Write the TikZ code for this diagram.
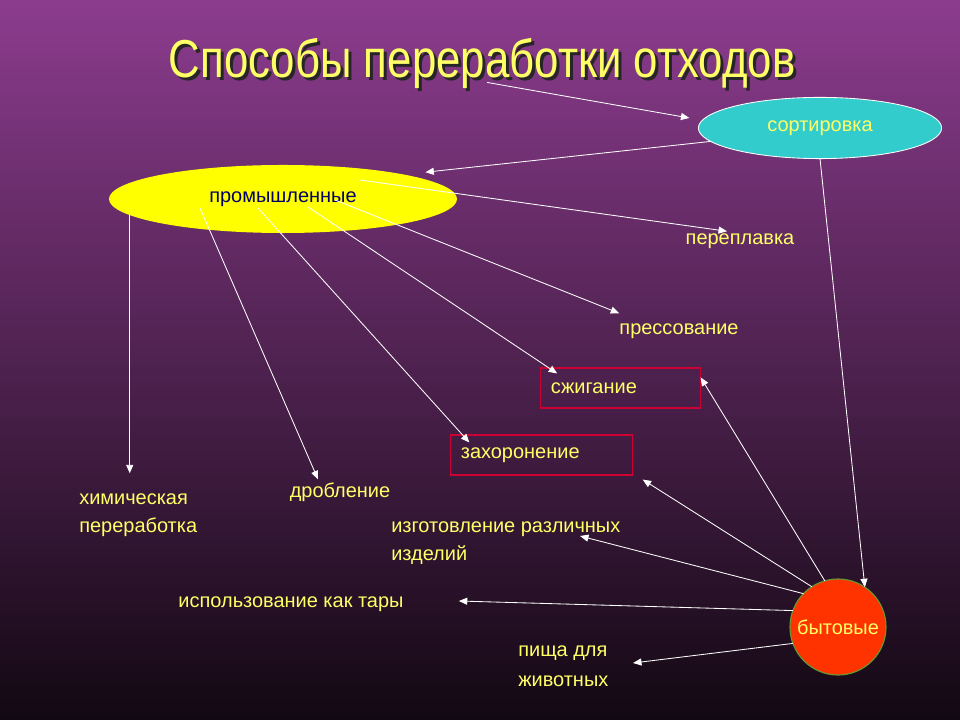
\documentclass[tikz,border=0pt]{standalone}
\usepackage{fontspec}
\setmainfont{Liberation Sans}
\newfontfamily\titlefont[FakeStretch=0.82]{Liberation Sans}
\usetikzlibrary{shapes.geometric, arrows.meta, positioning}

\definecolor{bgtop}{RGB}{140,60,142}
\definecolor{bgbot}{RGB}{18,8,18}
\definecolor{labyellow}{RGB}{255,255,102}
\definecolor{sortcyan}{RGB}{51,204,204}
\definecolor{promyellow}{RGB}{255,255,0}
\definecolor{promtext}{RGB}{0,0,102}
\definecolor{bytred}{RGB}{255,51,0}
\definecolor{bytgreen}{RGB}{102,153,51}
\definecolor{boxred}{RGB}{204,0,51}

\tikzset{
  lab/.style={font=\fontsize{14.2}{19.9}\selectfont, text=labyellow, inner sep=0pt, align=left},
  wayarrow/.style={draw=white, line width=0.6pt, -{Triangle[length=6pt,width=5pt]}},
  redbox/.style={lab, draw=boxred, line width=0.8pt, minimum height=1cm, inner xsep=0.25cm}
}

\begin{document}
\begin{tikzpicture}[x=0.025cm, y=-0.025cm]
    % Background
    \shade[top color=bgtop, bottom color=bgbot] (0,0) rectangle (960,720);
    \useasboundingbox (0,0) rectangle (960,720);

    % Title with shadow
    \node[font=\titlefont\fontsize{38}{40}\selectfont, text=black!85, inner sep=0pt] at (485,66) {Способы переработки отходов};
    \node (title) [font=\titlefont\fontsize{38}{40}\selectfont, text=labyellow, inner sep=0pt] at (482,63) {Способы переработки отходов};

    % Sources
    \node (sort) [ellipse, fill=sortcyan, draw=white, line width=0.6pt, minimum width=6.08cm, minimum height=1.53cm, outer sep=0pt, lab] at (820,128) {сортировка};
    \node (prom) [ellipse, fill=promyellow, minimum width=8.7cm, minimum height=1.7cm, outer sep=0pt, lab, text=promtext] at (283,199) {промышленные};
    \node (byt) [circle, fill=bytred, draw=bytgreen, line width=0.8pt, minimum size=2.4cm, outer sep=0pt, lab] at (838,627) {бытовые};

    % Methods
    \node (szhig) [redbox, text width=3.48cm] at (620.5,388) {сжигание};
    \node (zahor) [redbox, text width=4.03cm] at (541.5,455) {захоронение};
    \node (perepl) [lab] at (740,241) {переплавка};
    \node (press) [lab] at (679,331) {прессование};
    \node (him) [lab, anchor=west] at (79,515) {химическая\\переработка};
    \node (drob) [lab] at (340,492) {дробление};
    \node (izgot) [lab, anchor=west] at (391,543) {изготовление различных\\изделий};
    \node (ispol) [lab] at (291,604) {использование как тары};
    \node (pisha) [lab, anchor=west] at (518,666) {пища для\\[1.5pt]животных};

    % Title and sorting
    \draw[wayarrow] ([xshift=0.125cm,yshift=0.15cm]title.south) -- ([xshift=-0.225cm,yshift=0.25cm]sort.west);
    \draw[wayarrow] (sort.187) -- ([xshift=0.33cm,yshift=0.1cm]prom.10);
    \draw[wayarrow] (sort.south) -- (byt.56);

    % Industrial waste
    \draw[wayarrow] ([shift={(77,-19)}]prom.center) -- ([xshift=-0.325cm,yshift=0.05cm]perepl.north);
    \draw[wayarrow] ([shift={(52,1)}]prom.center) -- ([yshift=0.25cm]press.north west);
    \draw[wayarrow] ([shift={(25,8)}]prom.center) -- ([xshift=0.42cm,yshift=-0.15cm]szhig.north west);
    \draw[wayarrow] ([shift={(-25,9)}]prom.center) -- ([xshift=0.475cm,yshift=-0.2cm]zahor.north west);
    \draw[wayarrow] ([shift={(-83,9)}]prom.center) -- ([xshift=-0.55cm,yshift=0.075cm]drob.north);
    \draw[wayarrow, shorten >=0.5cm] (prom.186) -- (prom.186 |- him.north);

    % Household waste
    \draw[wayarrow] (byt.106) -- ([yshift=-0.25cm]szhig.north east);
    \draw[wayarrow] (byt.123) -- ([xshift=0.25cm,yshift=-0.1cm]zahor.south east);
    \draw[wayarrow] (byt.136) -- ([xshift=4.725cm,yshift=0.175cm]izgot.west);
    \draw[wayarrow] (byt.160) -- ([xshift=1.375cm,yshift=0.075cm]ispol.east);
    \draw[wayarrow] (byt.200) -- ([xshift=2.875cm,yshift=0.075cm]pisha.west);
\end{tikzpicture}
\end{document}
